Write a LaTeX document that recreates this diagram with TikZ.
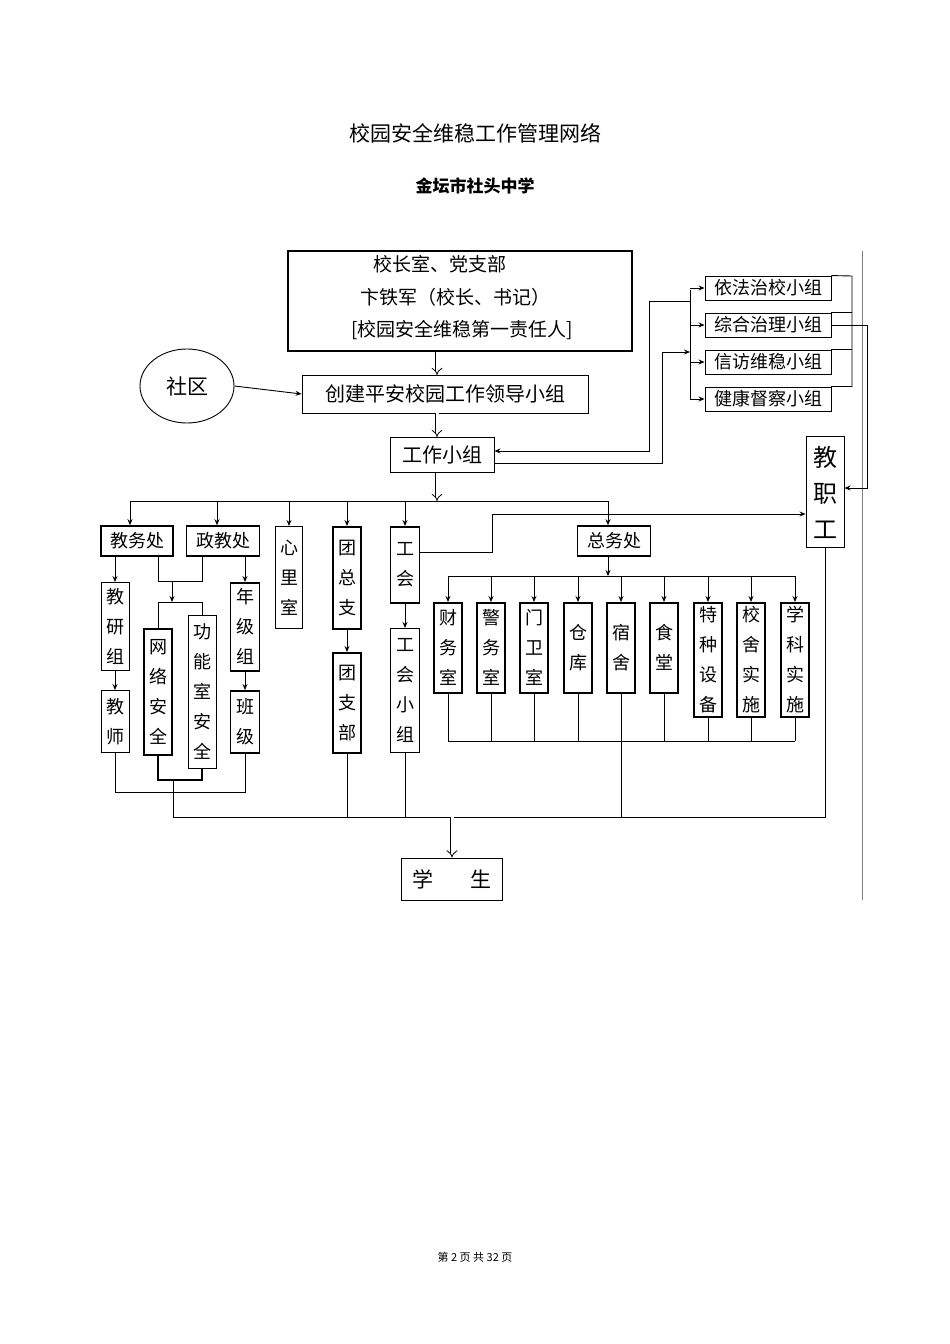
\documentclass[tikz,border=0pt]{standalone}
\usepackage{fontspec}
\setmainfont{Liberation Serif}
\newfontfamily\cjk{Noto Sans CJK SC}
\usetikzlibrary{arrows.meta,positioning,shapes.geometric}
\tikzset{
  box/.style={draw, line width=0.9pt, inner sep=0pt, font=\cjk\fontsize{18}{30}\selectfont, align=center},
  tbox/.style={box, line width=1.6pt},
  arr/.style={-{Stealth[length=6pt,width=5pt]}, line width=0.9pt},
  link/.style={line width=0.9pt},
  dbl/.style={double, double distance=3pt, line width=0.8pt, -{Implies}}
}
\begin{document}
\begin{tikzpicture}[x=1pt,y=-1pt]
\useasboundingbox (0,0) rectangle (950,1344);

% titles
\node (title) at (475,133) {\cjk\fontsize{21}{24}\selectfont 校园安全维稳工作管理网络};
\node (school) at (475,186) {\cjk\bfseries\fontsize{17}{20}\selectfont 金坛市社头中学};
\draw[gray, line width=0.4pt] (862,251) -- (862,900);

% top part
\node[tbox, minimum width=344pt, minimum height=100pt] (head) at (460,301) {};
\node[font=\cjk\fontsize{19}{22}\selectfont] (head1) at (440,264) {校长室、党支部};
\node[font=\cjk\fontsize{19}{22}\selectfont] (head2) at (455,297) {卞铁军（校长、书记）};
\node[font=\cjk\fontsize{19}{22}\selectfont] (head3) at (462,330) {[校园安全维稳第一责任人]};
\node[draw, line width=0.9pt, ellipse, minimum width=94pt, minimum height=74pt, font=\cjk\fontsize{21}{24}\selectfont] (comm) at (187,386) {社区};
\node[box, minimum width=286pt, minimum height=38pt, font=\cjk\fontsize{20}{24}\selectfont] (lead) at (445,394) {创建平安校园工作领导小组};
\node[box, minimum width=104pt, minimum height=35pt, font=\cjk\fontsize{20}{24}\selectfont] (work) at (442,455) {工作小组};
\draw[dbl] (head.south -| 437,0) -- (437,375);
\draw[dbl] (437,413) -- (437,437);
\draw[arr] (comm.east) -- (lead.west);

% right groups
\foreach \nm/\tx/\yy in {g1/依法治校小组/288, g2/综合治理小组/325, g3/信访维稳小组/362, g4/健康督察小组/399}
  \node[box, minimum width=126pt, minimum height=24pt] (\nm) at (768,\yy) {\tx};
\draw[link] (g1.north east) -- (852,276) -- (852,387);
\foreach \nm in {g2,g3,g4} \draw[link] (\nm.north east) -- (\nm.north -| 852,0);
\draw[link] (690,290) -- (690,400);
\foreach \nm in {g1,g2,g3,g4} \draw[arr] (\nm.west -| 690,0) -- (\nm.west);
\coordinate (rt1) at (649,301);
\draw[arr] (rt1) -- (690,301) (rt1) -- (649,451) -- (work.east |- 0,451);
\draw[arr] (work.east |- 0,463) -- (662,463) -- (662,352) -- (690,352);
\node[box, minimum width=38pt, minimum height=111pt, font=\cjk\fontsize{24}{36}\selectfont] (staff) at (825,492) {教\\职\\工};
\draw[arr] (g2.east) -- (867,325) -- (867,488) -- (staff.east |- 0,488);

% departments
\draw[dbl] (work.south -| 437,0) -- (437,501);
\draw[link] (130,501) -- (608,501);
\node[tbox, minimum width=72pt, minimum height=30pt] (jwc) at (137,541) {教务处};
\node[tbox, minimum width=73pt, minimum height=30pt] (zjc) at (223,541) {政教处};
\node[box, minimum width=27pt, minimum height=102pt, anchor=north] (xls) at (289,526) {心\\里\\室};
\node[tbox, minimum width=28pt, minimum height=102pt, anchor=north] (tzz) at (347,526) {团\\总\\支};
\node[tbox, minimum width=29pt, minimum height=76pt, anchor=north] (gh) at (405,526) {工\\会};
\node[tbox, minimum width=73pt, minimum height=30pt] (zwc) at (614,541) {总务处};
\foreach \xx/\nm in {130/jwc, 217/zjc, 289/xls, 347/tzz, 405/gh, 608/zwc}
  \draw[arr] (\xx,501) -- (\nm.north -| \xx,0);
\draw[arr] (gh.east |- 0,552) -- (492,552) -- (492,514) -- (staff.west |- 0,514);

% teaching and political branches
\node[box, minimum width=28pt, minimum height=88pt, anchor=north] (jyz) at (115,582) {教\\研\\组};
\node[box, minimum width=28pt, minimum height=62pt, anchor=north] (js) at (115,690) {教\\师};
\node[tbox, minimum width=29pt, minimum height=88pt, anchor=north] (njz) at (245,582) {年\\级\\组};
\node[tbox, minimum width=29pt, minimum height=62pt, anchor=north] (bj) at (245,690) {班\\级};
\node[tbox, minimum width=28pt, minimum height=126pt, anchor=north] (wlaq) at (158,628) {网\\络\\安\\全};
\node[box, minimum width=28pt, minimum height=153pt, anchor=north] (gnsaq) at (202,615) {功\\能\\室\\安\\全};
\draw[arr] (jwc.south -| 115,0) -- (jyz.north);
\draw[arr] (jyz.south) -- (js.north);
\draw[arr] (zjc.south -| 245,0) -- (njz.north);
\draw[arr] (njz.south) -- (bj.north);
\draw[link] (zjc.south -| 158,0) -- (158,581) -- (202,581) -- (zjc.south -| 202,0);
\draw[arr] (172,581) -- (172,602);
\draw[link] (wlaq.north) -- (158,602) -- (202,602) -- (gnsaq.north);
\draw[link] (js.south) -- (115,792) -- (245,792) -- (bj.south);
\draw[link, line width=1.6pt] (wlaq.south) -- (158,780) -- (202,780) -- (gnsaq.south);
\node[tbox, minimum width=28pt, minimum height=100pt, anchor=north] (tzb) at (347,652) {团\\支\\部};
\node[box, minimum width=29pt, minimum height=124pt, anchor=north] (ghxz) at (405,628) {工\\会\\小\\组};
\draw[arr] (tzz.south) -- (tzb.north);
\draw[arr] (gh.south) -- (ghxz.north);

% general affairs branch
\draw[link] (448,576) -- (795,576);
\draw[arr] (zwc.south -| 608,0) -- (608,576);
\foreach \nm/\tx/\xx/\hh in {cw/财\\务\\室/448/90, jw/警\\务\\室/491/90, mw/门\\卫\\室/534/90, ck/仓\\库/578/90, ss/宿\\舍/621/90, st/食\\堂/664/90, tz/特\\种\\设\\备/708/114, xs/校\\舍\\实\\施/751/114, xk/学\\科\\实\\施/795/114}{
  \node[tbox, minimum width=28pt, minimum height=\hh pt, anchor=north] (\nm) at (\xx,602) {\tx};
  \draw[arr] (\xx,576) -- (\nm.north);
  \draw[link] (\nm.south) -- (\xx,741);
}
\draw[link] (448,741) -- (795,741);

% students
\draw[link] (173,780) -- (173,817) -- (825,817) -- (staff.south);
\draw[link] (tzb.south) -- (347,817);
\draw[link] (ghxz.south) -- (405,817);
\draw[link] (621,741) -- (621,817);
\node[box, minimum width=101pt, minimum height=42pt, font=\cjk\fontsize{21}{24}\selectfont] (stu) at (452,879) {学\hspace{38pt}生};
\draw[dbl] (452,817) -- (stu.north);

% footer
\node (foot) at (475,1257) {\cjk\fontsize{11}{13}\selectfont 第 2 页 共 32 页};
\end{tikzpicture}
\end{document}
